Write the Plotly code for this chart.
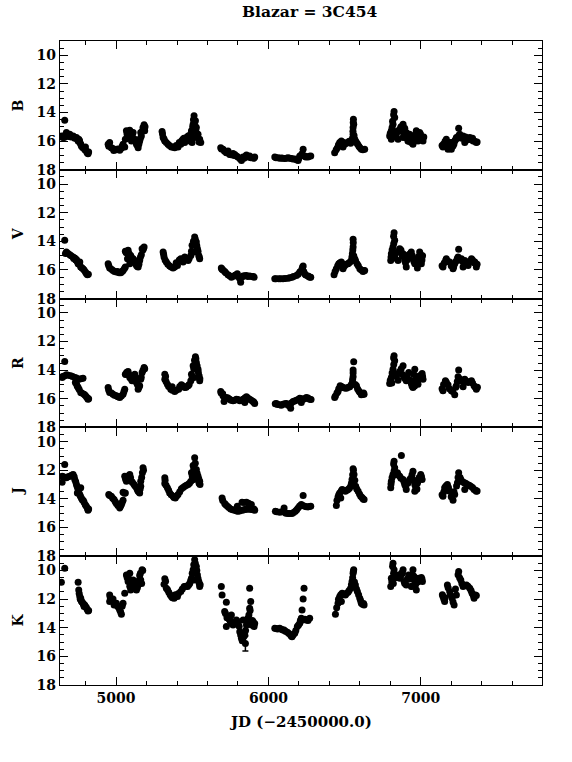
import plotly.graph_objects as go

# ---------------- data (JD - 2450000, magnitude) ----------------
B_jd = [4663, 4646, 4674, 4696, 4718, 4740, 4755, 4762, 4772, 4790, 4805, 4816, 4799, 4751, 4729, 4685, 4659,
        4650, 4665, 4690, 4705, 4725, 4745, 4760, 4768, 4780, 4795, 4810, 4820,
        4948, 4969, 4991, 5024, 5035, 5057, 4958, 5068, 5090, 5112, 5079, 5101, 5123, 5134, 5145, 5155, 5166, 5177, 5184, 5188, 5162, 5061, 5046,
        4952, 4975, 4985, 5000, 5012, 5040, 5072, 5085, 5095, 5108, 5115, 5128, 5140, 5150, 5160, 5172, 5190,
        5302, 5309, 5320, 5341, 5363, 5385, 5407, 5425, 5440, 5462, 5484, 5473, 5495, 5506, 5512, 5521, 5527, 5538, 5549, 5556, 5516, 5499, 5451,
        5305, 5315, 5330, 5350, 5372, 5395, 5415, 5432, 5445, 5456, 5468, 5480, 5490, 5503, 5508, 5518, 5524, 5532, 5545,
        5687, 5702, 5724, 5746, 5768, 5790, 5812, 5834, 5856, 5877, 5899, 5910, 5823, 5779, 5735,
        5692, 5712, 5730, 5755, 5775, 5800, 5818, 5840, 5850, 5865, 5885, 5905,
        6042, 6063, 6085, 6107, 6129, 6151, 6173, 6195, 6206, 6221, 6228, 6238, 6260, 6278,
        6050, 6075, 6095, 6118, 6140, 6160, 6185, 6200, 6215, 6245, 6268,
        6435, 6453, 6468, 6479, 6501, 6523, 6545, 6556, 6556, 6558, 6560, 6567, 6578, 6593, 6610, 6632, 6490,
        6445, 6460, 6475, 6485, 6495, 6510, 6530, 6540, 6552, 6555, 6557, 6562, 6572, 6585, 6600, 6620,
        6825, 6829, 6818, 6807, 6796, 6807, 6840, 6862, 6884, 6895, 6905, 6884, 6916, 6938, 6949, 6961, 6971, 6993, 7004, 7015, 6982, 6851, 6927,
        6822, 6815, 6812, 6800, 6815, 6830, 6845, 6870, 6878, 6890, 6900, 6910, 6922, 6935, 6945, 6955, 6966, 6976, 6988, 6998, 7010, 7020,
        7146, 7168, 7190, 7201, 7212, 7223, 7234, 7249, 7256, 7278, 7300, 7322, 7344, 7365, 7179, 7289,
        7140, 7150, 7160, 7172, 7185, 7195, 7205, 7218, 7228, 7240, 7250, 7262, 7270, 7285, 7295, 7310, 7330, 7340, 7355, 7370]
B_mag = [14.53, 15.63, 15.40, 15.52, 15.63, 15.75, 15.87, 16.10, 16.34, 16.50, 16.69, 16.88, 16.41, 15.99, 15.80, 15.68, 15.75,
         15.75, 15.60, 15.55, 15.70, 15.70, 15.85, 15.95, 16.20, 16.45, 16.60, 16.80, 16.75,
         16.22, 16.46, 16.57, 16.64, 16.50, 16.41, 16.10, 15.28, 15.24, 15.40, 15.75, 15.99, 15.87, 16.22, 16.46, 15.99, 15.63, 15.05, 14.86, 15.28, 15.40, 15.87, 16.22,
         16.35, 16.50, 16.65, 16.60, 16.55, 16.35, 15.50, 15.45, 15.60, 15.70, 15.90, 16.00, 16.30, 16.20, 15.80, 15.30, 15.00,
         15.33, 15.75, 15.99, 16.22, 16.41, 16.46, 16.41, 16.22, 15.87, 15.75, 15.99, 15.63, 15.28, 14.81, 14.23, 14.58, 15.05, 15.52, 15.87, 16.10, 15.75, 16.10, 16.10,
         15.50, 15.85, 16.10, 16.30, 16.40, 16.30, 16.10, 15.95, 15.80, 15.90, 15.80, 15.75, 15.50, 15.00, 14.50, 14.90, 15.30, 15.70, 16.05,
         16.46, 16.57, 16.81, 16.93, 16.86, 17.04, 17.21, 17.11, 16.97, 17.04, 17.16, 17.11, 17.35, 16.93, 16.69,
         16.55, 16.70, 16.80, 16.95, 17.00, 17.10, 17.25, 17.20, 17.05, 17.10, 17.15, 17.20,
         17.11, 17.16, 17.18, 17.21, 17.16, 17.21, 17.25, 17.35, 17.04, 16.88, 16.57, 17.04, 17.11, 17.04,
         17.15, 17.20, 17.20, 17.20, 17.20, 17.25, 17.30, 17.20, 17.00, 17.10, 17.05,
         16.81, 16.46, 16.10, 15.99, 16.22, 16.10, 15.99, 15.52, 15.05, 14.46, 14.81, 15.87, 16.10, 16.34, 16.57, 16.57, 16.41,
         16.60, 16.25, 16.10, 16.30, 16.10, 16.15, 16.00, 16.15, 15.80, 15.30, 14.70, 15.60, 16.00, 16.20, 16.45, 16.60,
         13.92, 14.34, 14.81, 15.28, 15.63, 15.87, 15.52, 15.17, 14.81, 15.10, 15.40, 15.75, 15.99, 16.10, 16.22, 15.63, 15.28, 15.40, 15.75, 15.99, 15.99, 15.87, 15.52,
         14.15, 14.60, 15.05, 15.45, 15.70, 15.60, 15.30, 15.00, 15.30, 15.55, 15.70, 15.80, 16.00, 15.90, 15.75, 15.90, 15.50, 15.70, 15.60, 15.50, 15.85, 15.70,
         16.41, 15.87, 16.10, 16.57, 16.34, 15.99, 15.75, 15.09, 15.52, 15.63, 15.87, 15.75, 15.99, 16.10, 16.57, 16.10,
         16.30, 16.20, 16.00, 16.20, 16.40, 16.50, 16.10, 16.20, 15.90, 15.80, 15.60, 15.70, 15.80, 15.80, 15.70, 15.90, 15.85, 15.80, 16.00, 16.05]

V_jd = [4663, 4674, 4696, 4718, 4740, 4751, 4768, 4783, 4799, 4812, 4729, 4762,
        4668, 4685, 4705, 4722, 4735, 4745, 4757, 4775, 4790, 4805, 4818,
        4948, 4958, 4980, 5002, 5031, 5046, 5061, 5061, 5079, 5096, 5112, 5123, 5134, 5145, 5155, 5171, 5184, 5166, 5090, 5075,
        4952, 4970, 4990, 5010, 5020, 5040, 5055, 5066, 5085, 5100, 5118, 5128, 5140, 5150, 5160, 5176, 5180,
        5309, 5315, 5330, 5352, 5374, 5403, 5425, 5451, 5473, 5491, 5499, 5516, 5527, 5534, 5543, 5549, 5512, 5440,
        5312, 5322, 5340, 5362, 5385, 5395, 5415, 5433, 5445, 5460, 5480, 5495, 5508, 5520, 5530, 5538, 5546,
        5691, 5713, 5735, 5757, 5779, 5796, 5812, 5818, 5834, 5856, 5877, 5906,
        5695, 5702, 5720, 5745, 5765, 5785, 5800, 5825, 5845, 5865, 5890, 5900,
        6042, 6068, 6096, 6129, 6155, 6184, 6206, 6221, 6228, 6238, 6260, 6278,
        6050, 6080, 6110, 6140, 6165, 6195, 6212, 6225, 6232, 6245, 6265, 6272,
        6431, 6446, 6462, 6479, 6501, 6523, 6545, 6551, 6556, 6556, 6567, 6582, 6600, 6621, 6632, 6490,
        6438, 6455, 6470, 6485, 6495, 6510, 6530, 6540, 6548, 6554, 6557, 6560, 6572, 6590, 6610, 6627,
        6825, 6829, 6818, 6807, 6803, 6829, 6862, 6884, 6895, 6905, 6916, 6938, 6949, 6961, 6982, 6993, 7004, 7004, 6978, 6851,
        6822, 6823, 6812, 6805, 6815, 6840, 6855, 6870, 6878, 6890, 6900, 6910, 6925, 6945, 6955, 6970, 6985, 6998, 7008, 7012,
        7146, 7168, 7190, 7212, 7223, 7245, 7249, 7267, 7289, 7311, 7333, 7355, 7365, 7278,
        7140, 7155, 7165, 7180, 7200, 7216, 7230, 7240, 7258, 7275, 7300, 7320, 7340, 7350, 7370]
V_mag = [13.93, 14.74, 14.93, 15.09, 15.26, 15.56, 15.79, 15.91, 16.14, 16.33, 15.16, 15.44,
         14.85, 14.85, 15.00, 15.20, 15.30, 15.40, 15.60, 15.85, 16.00, 16.25, 16.30,
         15.56, 15.86, 16.03, 16.14, 16.19, 16.03, 15.79, 14.70, 14.63, 14.98, 15.21, 15.44, 15.68, 15.79, 15.33, 14.51, 14.39, 14.93, 15.56, 15.21,
         15.70, 15.95, 16.10, 16.10, 16.20, 16.10, 15.90, 14.80, 14.85, 15.10, 15.30, 15.55, 15.75, 15.60, 15.10, 14.60, 14.50,
         14.74, 15.09, 15.44, 15.72, 15.86, 15.68, 15.21, 15.09, 15.33, 14.98, 14.28, 13.69, 14.04, 14.51, 14.98, 15.21, 14.74, 15.44,
         14.90, 15.30, 15.60, 15.80, 15.80, 15.50, 15.30, 15.30, 15.20, 15.20, 15.20, 14.70, 14.00, 13.85, 14.30, 14.70, 15.10,
         15.86, 16.10, 16.33, 16.50, 16.38, 16.26, 16.61, 16.85, 16.42, 16.38, 16.42, 16.50,
         15.95, 16.00, 16.20, 16.40, 16.45, 16.35, 16.45, 16.50, 16.40, 16.45, 16.45, 16.45,
         16.61, 16.61, 16.61, 16.57, 16.50, 16.38, 16.14, 15.91, 15.72, 16.26, 16.42, 16.50,
         16.62, 16.62, 16.60, 16.55, 16.45, 16.30, 16.10, 15.80, 16.10, 16.35, 16.45, 16.50,
         16.33, 15.91, 15.56, 15.44, 15.68, 15.56, 15.33, 14.86, 14.39, 13.86, 15.21, 15.56, 15.91, 16.10, 16.03, 15.91,
         16.10, 15.70, 15.50, 15.60, 15.75, 15.60, 15.50, 15.40, 15.10, 14.60, 14.10, 15.00, 15.35, 15.70, 16.00, 16.05,
         13.39, 13.93, 14.39, 14.86, 15.33, 15.09, 14.51, 14.86, 15.33, 15.79, 14.98, 14.74, 15.21, 15.56, 15.33, 14.74, 15.09, 15.56, 15.86, 15.33,
         13.65, 14.15, 14.60, 15.10, 15.20, 14.80, 14.70, 14.60, 15.00, 15.10, 15.50, 15.30, 14.90, 15.00, 15.40, 15.50, 15.10, 14.90, 15.30, 15.00,
         15.79, 15.21, 15.44, 15.91, 15.56, 15.09, 14.56, 15.21, 15.33, 15.68, 15.21, 15.44, 15.79, 15.79,
         15.70, 15.50, 15.30, 15.40, 15.70, 15.80, 15.40, 15.20, 15.30, 15.40, 15.50, 15.40, 15.30, 15.50, 15.60]

R_jd = [4663, 4646, 4674, 4702, 4729, 4755, 4783, 4733, 4751, 4768, 4790, 4805, 4816,
        4650, 4660, 4685, 4715, 4740, 4770, 4740, 4745, 4758, 4775, 4797, 4812, 4820,
        4948, 4958, 4980, 5002, 5024, 5046, 5057, 5061, 5079, 5090, 5105, 5123, 5134, 5145, 5155, 5171, 5184, 5162,
        4952, 4970, 4990, 5012, 5035, 5052, 5065, 5070, 5085, 5098, 5112, 5128, 5140, 5150, 5165, 5177, 5188,
        5320, 5320, 5337, 5359, 5385, 5411, 5429, 5451, 5473, 5491, 5495, 5506, 5521, 5527, 5538, 5545, 5549, 5512, 5368,
        5325, 5328, 5345, 5370, 5395, 5418, 5440, 5460, 5480, 5500, 5510, 5515, 5524, 5532, 5540, 5550,
        5687, 5702, 5709, 5724, 5746, 5768, 5790, 5812, 5834, 5856, 5877, 5899, 5910, 5845,
        5690, 5700, 5715, 5735, 5755, 5778, 5800, 5822, 5845, 5865, 5888, 5905,
        6053, 6074, 6096, 6118, 6140, 6146, 6162, 6184, 6206, 6228, 6249, 6271, 6216,
        6045, 6060, 6085, 6108, 6130, 6150, 6172, 6195, 6218, 6238, 6260, 6280,
        6435, 6457, 6471, 6490, 6512, 6534, 6551, 6556, 6556, 6560, 6578, 6593, 6610, 6628,
        6440, 6450, 6462, 6480, 6500, 6525, 6545, 6553, 6556, 6570, 6585, 6600, 6618, 6625,
        6825, 6829, 6818, 6807, 6796, 6840, 6862, 6884, 6891, 6905, 6921, 6938, 6949, 6961, 6971, 6982, 6993, 7009, 7015, 6851,
        6822, 6823, 6812, 6800, 6810, 6830, 6850, 6872, 6880, 6898, 6912, 6930, 6943, 6955, 6965, 6977, 6988, 7000, 7012, 6960,
        7146, 7162, 7179, 7201, 7223, 7234, 7245, 7249, 7267, 7289, 7311, 7333, 7350, 7365, 7278,
        7140, 7150, 7168, 7188, 7210, 7230, 7240, 7255, 7275, 7295, 7320, 7340, 7358, 7372]
R_mag = [13.39, 14.51, 14.32, 14.39, 14.51, 14.63, 14.56, 14.86, 15.21, 15.56, 15.68, 15.86, 16.03,
         14.45, 14.40, 14.35, 14.45, 14.55, 14.60, 14.95, 15.10, 15.35, 15.60, 15.75, 15.95, 16.00,
         15.21, 15.56, 15.68, 15.79, 15.91, 15.68, 15.33, 14.28, 14.09, 14.51, 14.74, 14.28, 14.86, 15.33, 15.09, 14.16, 13.81, 14.63,
         15.40, 15.60, 15.75, 15.85, 15.80, 15.50, 14.30, 14.15, 14.30, 14.60, 14.50, 14.50, 15.00, 15.20, 14.50, 14.00, 13.90,
         14.28, 14.63, 14.98, 15.33, 15.49, 15.33, 15.02, 15.21, 15.09, 14.74, 14.28, 13.69, 13.06, 13.46, 13.93, 14.39, 14.74, 14.51, 15.16,
         14.45, 14.80, 15.15, 15.40, 15.40, 15.15, 15.10, 15.20, 15.00, 14.50, 13.90, 13.30, 13.20, 13.70, 14.15, 14.60,
         15.49, 15.79, 16.19, 15.91, 16.03, 16.14, 16.03, 16.14, 16.03, 15.86, 16.03, 16.19, 16.33, 16.26,
         15.60, 15.65, 16.00, 15.95, 16.10, 16.10, 16.05, 16.10, 15.95, 15.95, 16.10, 16.25,
         16.33, 16.42, 16.38, 16.33, 16.50, 16.66, 16.19, 16.10, 15.96, 16.03, 15.91, 16.03, 16.26,
         16.35, 16.40, 16.45, 16.35, 16.45, 16.30, 16.15, 16.05, 16.00, 16.00, 15.95, 16.05,
         15.91, 15.49, 15.09, 15.21, 15.26, 15.16, 14.86, 14.46, 13.99, 13.41, 15.09, 15.44, 15.72, 15.68,
         15.80, 15.60, 15.30, 15.15, 15.25, 15.20, 15.00, 14.65, 14.20, 15.00, 15.30, 15.55, 15.70, 15.60,
         12.99, 13.34, 13.93, 14.51, 14.93, 14.28, 14.09, 13.69, 14.51, 14.74, 14.16, 14.93, 15.21, 13.93, 14.51, 14.98, 14.39, 14.23, 14.63, 14.70,
         13.15, 13.60, 14.20, 14.70, 14.90, 14.40, 14.25, 13.90, 14.30, 14.60, 14.40, 14.70, 15.10, 14.30, 14.70, 14.80, 14.60, 14.40, 14.45, 15.10,
         15.44, 14.74, 15.02, 15.44, 15.72, 15.09, 14.46, 13.99, 14.74, 14.63, 14.86, 14.74, 15.09, 15.33, 15.16,
         15.30, 15.00, 14.85, 15.30, 15.50, 15.20, 14.80, 14.60, 14.70, 14.80, 14.80, 14.90, 15.20, 15.20]

J_jd = [4663, 4646, 4646, 4674, 4696, 4718, 4729, 4740, 4751, 4762, 4772, 4790, 4805, 4816, 4746, 4768,
        4655, 4668, 4685, 4708, 4725, 4735, 4745, 4755, 4765, 4778, 4785, 4798, 4812, 4820,
        4952, 4969, 4987, 5002, 5024, 5035, 5046, 5046, 5061, 5057, 5068, 5090, 5101, 5118, 5134, 5145, 5155, 5162, 5173, 5177, 5162,
        4958, 4978, 4995, 5012, 5030, 5040, 5055, 5062, 5075, 5080, 5095, 5108, 5125, 5140, 5150, 5158, 5168, 5180,
        5320, 5320, 5337, 5352, 5374, 5389, 5407, 5429, 5451, 5473, 5491, 5495, 5506, 5516, 5527, 5538, 5549, 5551, 5512,
        5322, 5328, 5345, 5362, 5380, 5398, 5418, 5440, 5462, 5482, 5500, 5510, 5520, 5532, 5543, 5545,
        5696, 5713, 5731, 5752, 5779, 5798, 5823, 5845, 5866, 5892, 5910, 5827, 5856, 5888, 5796,
        5700, 5720, 5740, 5765, 5790, 5810, 5835, 5855, 5878, 5900, 5840, 5870, 5905,
        6046, 6074, 6103, 6107, 6129, 6155, 6177, 6195, 6216, 6228, 6238, 6260, 6278,
        6055, 6088, 6115, 6140, 6165, 6186, 6205, 6225, 6248, 6270,
        6446, 6457, 6468, 6484, 6505, 6523, 6540, 6549, 6556, 6562, 6573, 6589, 6606, 6628, 6475,
        6450, 6462, 6478, 6495, 6515, 6532, 6545, 6553, 6558, 6567, 6580, 6598, 6615, 6622,
        6873, 6825, 6829, 6818, 6807, 6803, 6847, 6862, 6884, 6895, 6905, 6921, 6938, 6949, 6961, 6971, 6982, 7000, 7009, 6961,
        6822, 6825, 6812, 6805, 6835, 6852, 6870, 6890, 6900, 6915, 6930, 6943, 6955, 6966, 6978, 6990, 7005, 6975,
        7146, 7157, 7175, 7190, 7212, 7223, 7241, 7249, 7263, 7285, 7306, 7328, 7350, 7365, 7289,
        7140, 7152, 7165, 7182, 7200, 7218, 7235, 7245, 7258, 7275, 7295, 7318, 7340, 7360, 7370]
J_mag = [11.59, 12.41, 12.83, 12.52, 12.41, 12.29, 12.64, 12.99, 13.34, 13.69, 13.93, 14.23, 14.51, 14.79, 13.58, 13.22,
         12.45, 12.50, 12.45, 12.35, 12.45, 12.80, 13.15, 13.45, 13.80, 14.05, 14.10, 14.40, 14.65, 14.70,
         13.69, 13.81, 14.04, 14.32, 14.63, 14.39, 14.09, 13.53, 13.58, 12.41, 12.76, 12.29, 12.76, 12.99, 13.22, 13.46, 13.58, 12.76, 12.17, 11.82, 13.11,
         13.75, 13.95, 14.20, 14.45, 14.50, 14.25, 13.60, 12.60, 12.50, 12.40, 12.50, 12.85, 13.10, 13.35, 13.50, 13.30, 12.50, 12.00,
         12.52, 12.92, 13.22, 13.58, 13.81, 13.93, 13.69, 13.29, 13.11, 12.99, 12.76, 12.17, 11.66, 11.12, 11.94, 12.41, 12.76, 12.99, 12.64,
         12.70, 13.05, 13.40, 13.70, 13.90, 13.80, 13.50, 13.20, 13.05, 12.90, 12.40, 11.90, 11.50, 12.20, 12.60, 12.90,
         13.93, 14.32, 14.51, 14.70, 14.79, 14.86, 14.79, 14.74, 14.70, 14.74, 14.79, 14.23, 14.23, 14.39, 14.51,
         14.10, 14.40, 14.60, 14.75, 14.83, 14.85, 14.78, 14.72, 14.72, 14.76, 14.25, 14.30, 14.70,
         14.86, 14.93, 14.63, 14.93, 15.02, 15.02, 14.86, 14.63, 14.39, 13.76, 14.51, 14.56, 14.51,
         14.90, 14.90, 15.00, 15.02, 14.95, 14.75, 14.50, 14.45, 14.55, 14.52,
         14.46, 13.86, 13.58, 13.34, 13.46, 13.34, 13.11, 12.64, 11.89, 12.29, 13.11, 13.46, 13.81, 14.04, 13.93,
         14.10, 13.70, 13.45, 13.40, 13.40, 13.25, 12.90, 12.30, 12.00, 12.70, 13.30, 13.65, 13.90, 14.00,
         10.96, 11.36, 11.82, 12.29, 12.76, 13.22, 12.17, 12.41, 12.64, 12.99, 13.34, 12.76, 12.52, 12.06, 12.99, 13.34, 12.76, 12.29, 12.64, 13.46,
         11.55, 12.05, 12.50, 12.95, 12.30, 12.30, 12.55, 12.80, 13.10, 12.90, 12.60, 12.30, 12.70, 13.15, 12.90, 12.50, 12.45, 13.30,
         13.81, 13.22, 12.99, 13.46, 14.09, 13.69, 12.87, 12.17, 12.64, 12.87, 12.99, 13.11, 13.34, 13.46, 13.34,
         13.70, 13.50, 13.10, 13.20, 13.85, 13.50, 13.10, 12.50, 12.50, 12.80, 12.90, 13.05, 13.20, 13.40, 13.45]

K_jd = [4663, 4641, 4751, 4755, 4762, 4772, 4783, 4794, 4805, 4816, 4768, 4790,
        4758, 4765, 4776, 4786, 4798, 4810, 4820,
        4958, 4958, 4980, 4987, 5002, 5024, 5035, 5046, 5057, 5068, 5079, 5096, 5112, 5123, 5134, 5145, 5155, 5171, 5162, 5090, 5105,
        4962, 4970, 4995, 5010, 5018, 5030, 5040, 5073, 5085, 5090, 5100, 5108, 5118, 5130, 5140, 5150, 5160, 5175, 5168,
        5320, 5315, 5330, 5346, 5363, 5381, 5403, 5425, 5447, 5469, 5484, 5495, 5506, 5516, 5527, 5534, 5543, 5549, 5512,
        5325, 5338, 5355, 5370, 5390, 5410, 5435, 5458, 5478, 5490, 5500, 5510, 5520, 5530, 5538, 5546, 5552,
        5691, 5696, 5724, 5713, 5735, 5724, 5746, 5768, 5790, 5801, 5812, 5823, 5845, 5856, 5866, 5877, 5884, 5877, 5899, 5906, 5834, 5757,
        5718, 5728, 5740, 5750, 5760, 5780, 5795, 5808, 5818, 5828, 5840, 5850, 5860, 5872, 5880, 5890, 5895, 5910,
        6042, 6074, 6103, 6125, 6146, 6155, 6173, 6190, 6206, 6216, 6221, 6228, 6234, 6249, 6271,
        6050, 6060, 6085, 6095, 6112, 6135, 6150, 6162, 6180, 6198, 6210, 6225, 6240, 6260,
        6440, 6457, 6468, 6484, 6505, 6523, 6540, 6549, 6556, 6560, 6571, 6584, 6600, 6610, 6628, 6479,
        6448, 6460, 6475, 6492, 6512, 6530, 6545, 6553, 6558, 6565, 6578, 6592, 6605, 6618, 6625,
        6818, 6825, 6807, 6803, 6840, 6862, 6884, 6891, 6905, 6921, 6938, 6949, 6961, 6971, 6987, 7004, 7011, 6873,
        6815, 6822, 6810, 6820, 6832, 6850, 6868, 6880, 6895, 6912, 6928, 6945, 6955, 6966, 6980, 6995, 7008, 6943,
        7146, 7157, 7175, 7190, 7206, 7219, 7234, 7249, 7263, 7278, 7300, 7322, 7337, 7350, 7359,
        7142, 7152, 7160, 7180, 7195, 7212, 7228, 7245, 7255, 7270, 7290, 7310, 7330, 7345, 7365]
K_mag = [9.84, 10.82, 10.82, 11.36, 11.82, 12.13, 12.29, 12.41, 12.59, 12.83, 11.94, 12.52,
         11.60, 12.00, 12.20, 12.35, 12.50, 12.70, 12.80,
         11.71, 12.17, 11.99, 12.41, 12.29, 12.76, 13.06, 12.29, 11.59, 10.31, 10.77, 11.36, 10.66, 11.12, 11.36, 11.01, 10.35, 9.95, 10.66, 10.19, 11.01,
         11.90, 12.10, 12.35, 12.50, 12.60, 12.90, 12.50, 10.50, 10.60, 11.10, 11.25, 10.80, 10.90, 11.20, 11.20, 10.70, 10.20, 10.00, 10.90,
         10.58, 10.96, 11.24, 11.52, 11.82, 11.94, 11.82, 11.47, 11.12, 11.12, 10.89, 10.54, 9.95, 9.25, 9.72, 10.31, 10.77, 11.12, 10.66,
         10.75, 11.35, 11.70, 11.90, 11.70, 11.60, 11.30, 11.10, 11.00, 10.70, 10.20, 9.60, 9.50, 10.00, 10.55, 10.90, 11.00,
         11.12, 11.71, 12.22, 12.87, 13.22, 13.92, 13.46, 13.81, 13.46, 13.69, 14.28, 14.74, 14.51, 13.81, 13.34, 12.64, 12.17, 11.24, 13.58, 13.92, 13.46, 13.11,
         13.00, 13.30, 13.35, 13.55, 13.70, 13.60, 13.55, 13.90, 14.50, 14.90, 14.60, 14.20, 13.60, 13.10, 12.80, 13.80, 13.50, 13.70,
         14.04, 14.04, 14.16, 14.32, 14.51, 14.63, 14.39, 13.92, 13.69, 13.34, 12.76, 11.99, 11.24, 13.46, 13.34,
         14.05, 14.08, 14.10, 14.15, 14.25, 14.40, 14.58, 14.50, 14.20, 13.80, 13.50, 13.45, 13.40, 13.50,
         13.06, 12.29, 11.82, 11.59, 11.71, 11.52, 11.24, 10.77, 10.19, 9.95, 11.01, 11.47, 11.94, 12.29, 12.41, 12.17,
         12.60, 12.00, 11.70, 11.65, 11.60, 11.40, 11.00, 10.50, 10.05, 10.80, 11.30, 11.70, 12.10, 12.35, 12.30,
         9.49, 9.95, 10.54, 11.12, 10.31, 10.54, 9.95, 10.77, 11.01, 10.31, 11.12, 9.95, 10.77, 11.36, 10.54, 10.49, 10.77, 10.19,
         9.70, 10.20, 10.80, 10.90, 10.50, 10.35, 10.40, 10.20, 10.90, 10.60, 10.60, 10.30, 10.40, 11.00, 10.80, 10.60, 10.60, 11.10,
         11.82, 12.17, 11.01, 11.47, 11.94, 12.41, 11.71, 10.07, 10.66, 11.12, 11.01, 11.24, 11.59, 11.94, 11.71,
         11.70, 12.00, 11.90, 11.20, 11.70, 12.20, 11.30, 10.30, 10.50, 10.90, 11.05, 11.10, 11.40, 11.75, 11.75]

# single K point with a large error bar
K_err_jd = [5849]
K_err_mag = [15.10]
K_err = [0.52]

bands = ["B", "V", "R", "J", "K"]
band_x = [B_jd, V_jd, R_jd, J_jd, K_jd]
band_y = [B_mag, V_mag, R_mag, J_mag, K_mag]

x_ticks = [5000, 6000, 7000]
x_ticklabels = ["5000", "6000", "7000"]
y_ticks = [10, 12, 14, 16, 18]

title_text = "Blazar = 3C454"
x_title = "JD (\u22122450000.0)"

# ---------------- figure ----------------
FONT = "DejaVu Serif"
W, H = 572, 762
ML, MR, MT, MB = 60, 30, 41, 77
plot_w = W - ML - MR
plot_h = H - MT - MB

fig = go.Figure()
n = len(bands)
layout = {}
for i, name in enumerate(bands):
    sfx = "" if i == 0 else str(i + 1)
    xa = "x" + sfx
    ya = "y" + sfx
    fig.add_trace(go.Scatter(
        x=band_x[i], y=band_y[i], mode="markers", xaxis=xa, yaxis=ya,
        marker=dict(color="black", size=7, line=dict(width=0)),
        showlegend=False, hoverinfo="x+y"))
    top = 1 - i / n
    bot = 1 - (i + 1) / n
    layout["xaxis" + sfx] = dict(
        domain=[0, 1], anchor=ya, range=[4632, 7796],
        matches=None if i == 0 else "x",
        tickmode="array", tickvals=x_ticks, ticktext=x_ticklabels,
        showticklabels=(i == n - 1),
        ticks="inside", ticklen=8, tickwidth=1.3, tickcolor="black",
        minor=dict(dtick=200, tick0=0, ticks="inside", ticklen=4, tickwidth=1.3, tickcolor="black"),
        showline=True, linecolor="black", linewidth=1.2, mirror="ticks",
        showgrid=False, zeroline=False,
        tickfont=dict(family=FONT, size=14, color="black", weight="bold"),
    )
    layout["yaxis" + sfx] = dict(
        domain=[bot, top], anchor=xa, range=[18, 9],
        tickmode="array", tickvals=y_ticks,
        ticks="inside", ticklen=8, tickwidth=1.3, tickcolor="black",
        minor=dict(dtick=0.5, tick0=0, ticks="inside", ticklen=4, tickwidth=1.3, tickcolor="black"),
        showline=True, linecolor="black", linewidth=1.2, mirror="ticks",
        showgrid=False, zeroline=False,
        tickfont=dict(family=FONT, size=14, color="black", weight="bold"),
    )

fig.add_trace(go.Scatter(
    x=K_err_jd, y=K_err_mag, mode="markers", xaxis="x5", yaxis="y5",
    marker=dict(color="black", size=7),
    error_y=dict(type="data", array=K_err, color="black", thickness=1.5, width=3),
    showlegend=False))

annotations = []
for i, name in enumerate(bands):
    top = 1 - i / n
    bot = 1 - (i + 1) / n
    annotations.append(dict(
        text=name, xref="paper", yref="paper", x=-42 / plot_w, y=(top + bot) / 2,
        xanchor="center", yanchor="middle", textangle=-90, showarrow=False,
        font=dict(family=FONT, size=14, color="black", weight="bold")))
annotations.append(dict(
    text=x_title, xref="paper", yref="paper", x=(300 - ML) / plot_w, y=-37 / plot_h,
    xanchor="center", yanchor="middle", showarrow=False,
    font=dict(family=FONT, size=15, color="black", weight="bold")))
annotations.append(dict(
    text=title_text, xref="paper", yref="paper", x=(310 - ML) / plot_w, y=1 + 30 / plot_h,
    xanchor="center", yanchor="middle", showarrow=False,
    font=dict(family=FONT, size=15.5, color="black", weight="bold")))

fig.update_layout(
    width=W, height=H,
    margin=dict(l=ML, r=MR, t=MT, b=MB),
    paper_bgcolor="white", plot_bgcolor="white",
    annotations=annotations,
    **layout,
)

# remove the default page margin so the figure sits at the window's corner
fig.write_html("out.html", config={"displayModeBar": False},
               post_script="document.body.style.margin='0';")
